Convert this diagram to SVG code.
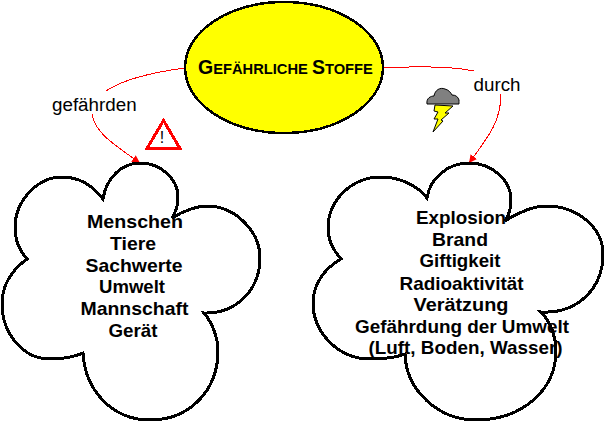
<svg xmlns="http://www.w3.org/2000/svg" width="606" height="423" viewBox="0 0 606 423">
<style>
text{font-family:"Liberation Sans",Arial,sans-serif;fill:#000}
.c{font-weight:bold;font-size:19px;text-anchor:middle}
.l{font-size:18.800px}
.cloud{fill:#fff;stroke:#000;stroke-width:3;stroke-linejoin:miter;shape-rendering:crispEdges}
.e{fill:none;stroke:#f00;stroke-width:1;shape-rendering:crispEdges}
</style>
<defs><marker id="a" markerUnits="userSpaceOnUse" markerWidth="10" markerHeight="10" refX="8" refY="4" orient="auto"><path d="M0 0L8 4L0 8Z" fill="#f00"/></marker></defs>
<rect width="606" height="423" fill="#fff"/>
<g id="connectors">
<path class="e" d="M185 68C155 72 125 78 106 91"/>
<path class="e" d="M92 114C95 132 110 142 140 163" marker-end="url(#a)"/>
<path class="e" d="M384 68C420 66 450 66 474 71"/>
<path class="e" d="M501 94C501 120 490 135 469 163" marker-end="url(#a)"/>
</g>
<g id="node-stoffe">
<ellipse cx="284" cy="67.500" rx="99" ry="65.500" fill="#ff0" stroke="#000" stroke-width="2.500" shape-rendering="crispEdges"/>
<text x="198" y="74" font-weight="bold" font-size="14.700"><tspan font-size="19.500">G</tspan>EFÄHRLICHE <tspan font-size="19.500">S</tspan>TOFFE</text>
</g>
<g id="label-gefaehrden"><text class="l" x="52" y="111">gefährden</text></g>
<g id="label-durch"><text class="l" x="473.500" y="91">durch</text></g>
<g id="node-warning">
<path d="M163.500 120.500L180 148.500H147Z" fill="#fff" stroke="#f00" stroke-width="3" shape-rendering="crispEdges"/>
<text x="162" y="143" font-size="16" text-anchor="middle">!</text>
</g>
<g id="node-storm">
<path d="M427 104C426 98 431 96 434 96C435 90 440 87 445 89C449 90 451 93 452 95C456 95 458 97 459 100C459 102 459 104 459 104Z" fill="#808080" stroke="#000" stroke-width="1"/>
<path d="M435 105L453 106L445 113L449 113L441 120L443 121L433 132L438 119L434 119L438 112L434 111Z" fill="#ff0" stroke="#000" stroke-width="1"/>
</g>
<g id="node-left-cloud">
<path class="cloud" d="M103 199C106 178 122 163 140 163C162 163 178 180 178 197C178 204 176 212 172 218C186 209 200 206 207 206C234 206 260 230 260 258C260 290 236 314 204 313C214 325 218 340 218 351C218 390 190 420 150 420C112 420 85 390 83 353C72 358 60 359 50 359C22 359 2 332 2 304C2 284 12 270 27 259C18 249 15 238 15 228C15 200 38 177 62 177C80 177 93 186 103 199Z"/>
<text class="c" x="135" y="228" textLength="96" lengthAdjust="spacingAndGlyphs">Menschen</text>
<text class="c" x="133" y="250" textLength="46" lengthAdjust="spacingAndGlyphs">Tiere</text>
<text class="c" x="134" y="272" textLength="97" lengthAdjust="spacingAndGlyphs">Sachwerte</text>
<text class="c" x="132" y="293" textLength="66" lengthAdjust="spacingAndGlyphs">Umwelt</text>
<text class="c" x="134.500" y="315" textLength="108" lengthAdjust="spacingAndGlyphs">Mannschaft</text>
<text class="c" x="133" y="337" textLength="49" lengthAdjust="spacingAndGlyphs">Gerät</text>
</g>
<g id="node-right-cloud">
<path class="cloud" d="M427 198C430 178 448 163 469 163C492 163 511 180 511 200C511 208 509 215 505 221C520 211 536 206 546 206C578 206 603 228 603 254C603 288 578 314 541 312C551 322 556 338 556 351C556 390 522 420 476 420C438 420 406 390 405 354C395 358 382 359 370 359C338 359 313 332 313 303C313 284 325 268 341 259C332 249 328 238 328 228C328 200 352 177 381 177C400 177 418 186 427 198Z"/>
<text class="c" x="461" y="224" textLength="90" lengthAdjust="spacingAndGlyphs">Explosion</text>
<text class="c" x="460" y="245.500" textLength="56" lengthAdjust="spacingAndGlyphs">Brand</text>
<text class="c" x="460" y="267" textLength="81" lengthAdjust="spacingAndGlyphs">Giftigkeit</text>
<text class="c" x="461.500" y="289.500" textLength="124" lengthAdjust="spacingAndGlyphs">Radioaktivität</text>
<text class="c" x="461" y="311" textLength="95" lengthAdjust="spacingAndGlyphs">Verätzung</text>
<text class="c" x="462" y="332.500" textLength="214" lengthAdjust="spacingAndGlyphs">Gefährdung der Umwelt</text>
<text class="c" x="465.500" y="354" textLength="194" lengthAdjust="spacingAndGlyphs">(Luft, Boden, Wasser)</text>
</g>
</svg>
